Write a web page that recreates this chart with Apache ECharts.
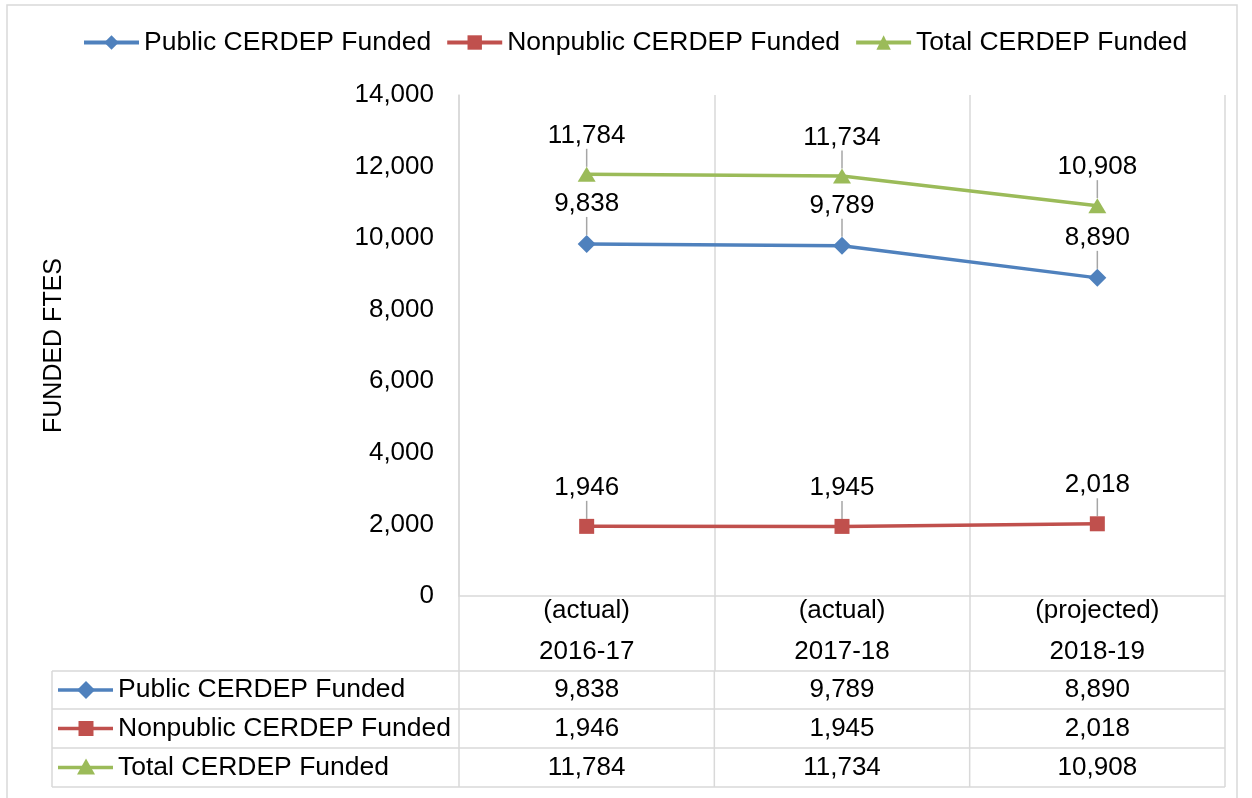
<!DOCTYPE html>
<html>
<head>
<meta charset="utf-8">
<script src="https://cdn.jsdelivr.net/npm/echarts@6/dist/echarts.min.js"></script>
<style>
html,body{margin:0;padding:0;background:#fff;}
#chart{width:1252px;height:798px;}
</style>
</head>
<body>
<div id="chart"></div>
<script>
const categories = ['(actual)\n2016-17', '(actual)\n2017-18', '(projected)\n2018-19'];
const seriesNames = ['Public CERDEP Funded', 'Nonpublic CERDEP Funded', 'Total CERDEP Funded'];
const publicFunded = [9838, 9789, 8890];
const nonpublicFunded = [1946, 1945, 2018];
const totalFunded = [11784, 11734, 10908];
const yAxisTitle = 'FUNDED FTES';

const colors = ['#4f81bd', '#c0504d', '#9bbb59'];
const symbols = ['diamond', 'rect', 'triangle'];
const symbolSizes = [[18, 18], [15, 15], [18, 15]];
const allData = [publicFunded, nonpublicFunded, totalFunded];
const FONT = '"Liberation Sans", Arial, sans-serif';
const fmt = v => v.toLocaleString('en-US');

const chart = echarts.init(document.getElementById('chart'), null, {renderer: 'canvas'});

const series = seriesNames.map((name, i) => ({
  name: name,
  type: 'line',
  data: allData[i],
  symbol: symbols[i],
  symbolSize: symbolSizes[i],
  showAllSymbol: true,
  lineStyle: {color: colors[i], width: 3.5},
  itemStyle: {color: colors[i]},
  label: {
    show: true, position: 'top', distance: 6,
    formatter: p => fmt(p.value),
    color: '#000', fontSize: 26, fontFamily: FONT
  },
  labelLayout: {dy: -12},
  labelLine: {show: true, lineStyle: {color: '#a6a6a6', width: 1.5}},
  emphasis: {disabled: true},
  animation: false
}));

const option = {
  animation: false,
  textStyle: {fontFamily: FONT},
  legend: {
    top: 24, left: 77,
    itemWidth: 55, itemHeight: 18, itemGap: 14,
    lineStyle: {width: 4},
    textStyle: {fontSize: 26.5, color: '#000', fontFamily: FONT},
    data: seriesNames
  },
  grid: {left: 459, right: 27, top: 95, bottom: 202, containLabel: false},
  xAxis: {
    type: 'category',
    data: categories,
    boundaryGap: true,
    axisLine: {show: true, lineStyle: {color: '#d9d9d9', width: 1.5}},
    axisTick: {show: true, interval: 0, length: 75, lineStyle: {color: '#d9d9d9', width: 1.5}},
    splitLine: {show: true, interval: 0, lineStyle: {color: '#d9d9d9', width: 1.5}},
    axisLabel: {
      interval: 0, margin: -6, lineHeight: 41,
      fontSize: 26, color: '#000', fontFamily: FONT
    }
  },
  yAxis: {
    type: 'value', min: 0, max: 14000, interval: 2000,
    name: yAxisTitle, nameLocation: 'middle', nameGap: 392, nameRotate: 90,
    nameTextStyle: {fontSize: 25, color: '#000', fontFamily: FONT},
    axisLine: {show: true, lineStyle: {color: '#d9d9d9', width: 1.5}},
    axisTick: {show: false},
    splitLine: {show: false},
    axisLabel: {
      margin: 25, fontSize: 26, color: '#000', fontFamily: FONT,
      formatter: v => fmt(v)
    }
  },
  series: series
};
chart.setOption(option);

// Data table below the chart (built from the same arrays)
function buildTable() {
  const c0 = chart.convertToPixel({xAxisIndex: 0}, 0);
  const c1 = chart.convertToPixel({xAxisIndex: 0}, 1);
  const band = c1 - c0;
  const centers = categories.map((_, i) => chart.convertToPixel({xAxisIndex: 0}, i));
  const plotLeft = centers[0] - band / 2;
  const plotRight = centers[centers.length - 1] + band / 2;
  const tableLeft = 52;
  const rowTops = [671, 709, 748, 787];
  const lineColor = '#d9d9d9';
  const els = [];
  // outer chart border
  els.push({type: 'rect', shape: {x: 7, y: 5, width: 1230, height: 820},
    style: {fill: 'none', stroke: lineColor, lineWidth: 1.5}, silent: true, z: 0});
  // horizontal lines
  rowTops.forEach(y => {
    els.push({type: 'line', shape: {x1: tableLeft, y1: y, x2: plotRight, y2: y},
      style: {stroke: lineColor, lineWidth: 1.5}, silent: true});
  });
  // vertical lines
  const vx = [tableLeft, plotLeft].concat(centers.map(c => c + band / 2));
  vx.forEach(x => {
    els.push({type: 'line', shape: {x1: x, y1: rowTops[0], x2: x, y2: rowTops[rowTops.length - 1]},
      style: {stroke: lineColor, lineWidth: 1.5}, silent: true});
  });
  seriesNames.forEach((name, r) => {
    const cy = (rowTops[r] + rowTops[r + 1]) / 2;
    // legend key
    els.push({type: 'line', shape: {x1: 58, y1: cy, x2: 113, y2: cy},
      style: {stroke: colors[r], lineWidth: 3.5}, silent: true});
    const mx = 86;
    let sym;
    if (symbols[r] === 'diamond') {
      sym = {type: 'polygon', shape: {points: [[mx, cy - 9], [mx + 9, cy], [mx, cy + 9], [mx - 9, cy]]}};
    } else if (symbols[r] === 'rect') {
      sym = {type: 'rect', shape: {x: mx - 7.5, y: cy - 7.5, width: 15, height: 15}};
    } else {
      sym = {type: 'polygon', shape: {points: [[mx, cy - 9], [mx + 9, cy + 7], [mx - 9, cy + 7]]}};
    }
    sym.style = {fill: colors[r]}; sym.silent = true;
    els.push(sym);
    els.push({type: 'text', x: 118, y: cy, silent: true,
      style: {text: name, font: '26.5px ' + FONT, fill: '#000', verticalAlign: 'middle', align: 'left'}});
    allData[r].forEach((v, i) => {
      els.push({type: 'text', x: centers[i], y: cy, silent: true,
        style: {text: fmt(v), font: '26px ' + FONT, fill: '#000', verticalAlign: 'middle', align: 'center'}});
    });
  });
  chart.setOption({graphic: {elements: els}});
}
buildTable();
</script>
</body>
</html>
